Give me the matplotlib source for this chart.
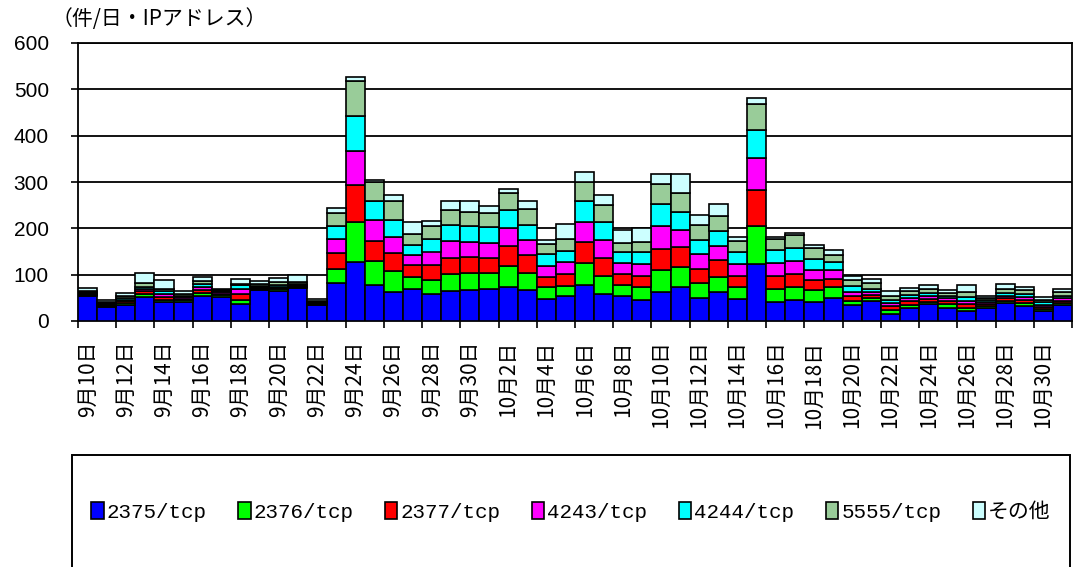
import matplotlib
matplotlib.use("Agg")
import matplotlib.pyplot as plt
import numpy as np
from matplotlib.patches import Rectangle
from matplotlib.font_manager import FontProperties

dates = ["9月10日", "9月11日", "9月12日", "9月13日", "9月14日", "9月15日", "9月16日",
         "9月17日", "9月18日", "9月19日", "9月20日", "9月21日", "9月22日", "9月23日",
         "9月24日", "9月25日", "9月26日", "9月27日", "9月28日", "9月29日", "9月30日",
         "10月1日", "10月2日", "10月3日", "10月4日", "10月5日", "10月6日", "10月7日",
         "10月8日", "10月9日", "10月10日", "10月11日", "10月12日", "10月13日", "10月14日",
         "10月15日", "10月16日", "10月17日", "10月18日", "10月19日", "10月20日", "10月21日",
         "10月22日", "10月23日", "10月24日", "10月25日", "10月26日", "10月27日", "10月28日",
         "10月29日", "10月30日", "10月31日"]

p2375 = [54, 31, 35, 51, 40, 42, 54, 51, 36, 67, 65, 71, 35, 81, 127, 78, 62, 68, 58, 65, 67,
         69, 74, 66, 47, 53, 78, 58, 55, 45, 62, 74, 50, 62, 47, 122, 41, 46, 41, 49, 35, 44,
         16, 29, 36, 29, 22, 29, 38, 33, 22, 35]
p2376 = [2, 2, 4, 8, 6, 3, 6, 5, 10, 2, 3, 2, 1, 32, 86, 52, 45, 27, 31, 37, 36,
         34, 45, 38, 26, 23, 48, 39, 23, 28, 48, 42, 31, 34, 27, 83, 28, 28, 25, 24, 8, 6,
         7, 6, 5, 7, 7, 4, 5, 6, 4, 4]
p2377 = [2, 2, 4, 6, 6, 3, 6, 3, 13, 2, 3, 2, 1, 33, 80, 43, 39, 25, 31, 35, 36,
         34, 43, 38, 23, 26, 45, 39, 23, 24, 46, 43, 32, 36, 24, 77, 29, 27, 23, 18, 10, 6,
         9, 8, 6, 7, 8, 4, 6, 6, 5, 5]
p4243 = [2, 2, 3, 5, 6, 3, 7, 3, 9, 2, 3, 2, 1, 31, 74, 44, 36, 22, 30, 36, 32,
         32, 38, 33, 23, 25, 43, 39, 24, 25, 48, 38, 31, 29, 24, 70, 27, 28, 22, 18, 10, 6,
         6, 6, 6, 6, 7, 4, 6, 7, 4, 5]
p4244 = [2, 2, 3, 4, 6, 3, 6, 2, 10, 3, 4, 3, 2, 27, 76, 43, 36, 23, 27, 34, 33,
         33, 40, 32, 25, 25, 44, 38, 23, 26, 48, 39, 31, 34, 26, 61, 29, 29, 23, 19, 12, 8,
         7, 8, 8, 6, 8, 4, 5, 7, 5, 6]
p5555 = [3, 3, 5, 9, 6, 4, 8, 3, 2, 4, 6, 4, 3, 29, 74, 41, 41, 23, 27, 33, 32,
         31, 36, 35, 22, 25, 43, 38, 21, 23, 44, 41, 32, 32, 25, 56, 24, 28, 23, 15, 14, 12,
         10, 7, 7, 6, 10, 5, 8, 8, 5, 7]
other = [6, 4, 7, 20, 18, 6, 9, 2, 11, 6, 9, 15, 5, 11, 10, 4, 13, 25, 11, 19, 23,
         16, 9, 17, 9, 32, 20, 22, 28, 29, 22, 41, 22, 26, 9, 12, 4, 3, 8, 11, 9, 8,
         9, 7, 9, 5, 15, 5, 12, 7, 6, 7]

series_names = ["2375/tcp", "2376/tcp", "2377/tcp", "4243/tcp", "4244/tcp", "5555/tcp", "その他"]
series_vals = [p2375, p2376, p2377, p4243, p4244, p5555, other]
colors = ["#0000FF", "#00FF00", "#FF0000", "#FF00FF", "#00FFFF", "#99CC99", "#CCFFFF"]
yticks = [0, 100, 200, 300, 400, 500, 600]
unit_label = "（件/日・IPアドレス）"

W, H = 1073, 567
fig = plt.figure(figsize=(W / 100, H / 100), dpi=100)
ax = fig.add_axes([78 / W, 1 - 321 / H, 994 / W, 278 / H])

x = np.arange(len(dates))
bottom = np.zeros(len(dates))
handles = []
for name, vals, c in zip(series_names, series_vals, colors):
    v = np.array(vals, dtype=float)
    b = ax.bar(x, v, bottom=bottom, width=1.0, color=c, edgecolor="black",
               linewidth=1.2, label=name, zorder=3)
    handles.append(b)
    bottom += v

ax.set_xlim(-0.5, len(dates) - 0.5)
ax.set_ylim(0, 600)
ax.set_yticks(yticks)
ax.set_yticklabels([str(t) for t in yticks], fontsize=15, family="Liberation Sans")
ax.yaxis.grid(True, color="black", linewidth=1.3, zorder=0)
ax.set_axisbelow(True)
ax.tick_params(axis="y", direction="out", length=5, width=1.2, pad=16)

# major ticks at category boundaries, labels at every other category centre
ax.set_xticks(np.arange(-0.5, len(dates), 2))
ax.set_xticklabels([])
ax.tick_params(axis="x", which="major", direction="out", length=5, width=1.2)
ax.set_xticks(x[::2], minor=True)
ax.set_xticklabels([dates[i] for i in x[::2]], minor=True, rotation=90,
                   fontsize=15, family=["Noto Sans CJK JP", "DejaVu Sans"], va="top")
ax.tick_params(axis="x", which="minor", length=0, pad=14)

for s in ax.spines.values():
    s.set_linewidth(1.3)
    s.set_color("black")

fig.text(52 / W, 1 - 8 / H, unit_label, fontsize=15,
         family=["Noto Sans CJK JP", "DejaVu Sans"], ha="left", va="top")

# legend box
fig.add_artist(Rectangle((72 / W, -0.05), (1070 - 72) / W, (1 - 455 / H) + 0.05,
                         transform=fig.transFigure, facecolor="white",
                         edgecolor="black", linewidth=1.4, zorder=0))
prop = FontProperties(family=["Liberation Mono", "Noto Sans CJK JP"], size=15)
leg = fig.legend(handles=handles, labels=series_names, loc="center",
                 bbox_to_anchor=(571 / W, 1 - 512 / H), ncol=7, frameon=False,
                 prop=prop, handlelength=0.6, handleheight=0.9, handletextpad=0.15,
                 columnspacing=1.5, borderaxespad=0)

fig.savefig("out.png", dpi=100)
